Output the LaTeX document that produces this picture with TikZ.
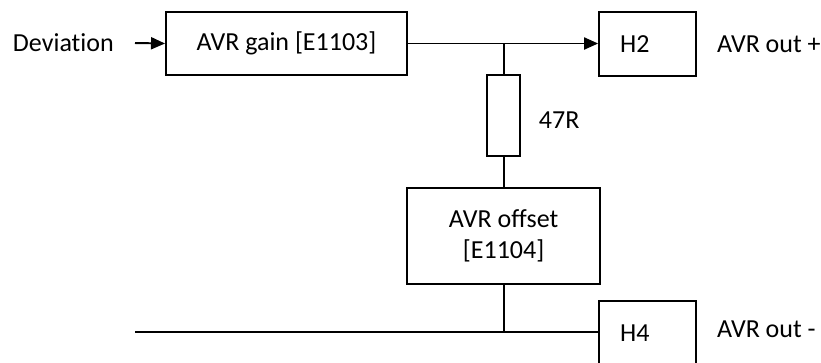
\documentclass[tikz,border=0pt]{standalone}
\usepackage{fontspec}
\setmainfont{Carlito}[Ligatures=NoCommon]
\usetikzlibrary{arrows.meta,positioning}

\begin{document}
\begin{tikzpicture}[line width=1.4pt,
  block/.style={draw,inner sep=0pt,align=center},
  hdr/.style={draw,inner xsep=0.525cm,inner ysep=0pt,text width=1.375cm,align=left,minimum height=1.6cm},
  txt/.style={inner sep=0pt,anchor=west},
  sig/.style={-{Triangle[length=0.35cm,width=0.3cm]}},
  font=\fontsize{18.5}{22.5}\selectfont]
\useasboundingbox (0,0) rectangle (20.525,-9.05);
\node[txt] (dev) at (0.3,-1.075) {Deviation};
\node[block,minimum width=6.025cm,minimum height=1.575cm] (gain) at (7.1625,-1.0875) {AVR gain [E1103]};
\node[hdr] (H2) at (16.19,-1.1) {H2};
\node[txt,right=0.475cm of H2] (outp) {AVR out +};
\node[block,minimum width=0.825cm,minimum height=2.025cm] (res) at (12.59,-2.8875) {};
\node[txt] (rval) at (13.45,-3.0) {47R};
\node[block,minimum width=4.825cm,minimum height=2.4cm] (offs) at (12.59,-5.9) {AVR offset\\\relax [E1104]};
\node[hdr] (H4) at (16.19,-8.325) {H4};
\node[txt,right=0.475cm of H4,yshift=0.1cm] (outm) {AVR out -};
\coordinate (devin) at (3.375,-1.075);
\coordinate (neg) at (3.375,-8.3);
\draw[sig] (devin) -- (gain.west);
\draw[sig] (gain.east) -- (gain.east -| H2.west);
\draw (res.north) -- (res.north |- gain.east);
\draw (res.south) -- (offs.north);
\draw (neg) -- (neg -| H4.west);
\draw (offs.south) -- (offs.south |- neg);
\end{tikzpicture}
\end{document}
